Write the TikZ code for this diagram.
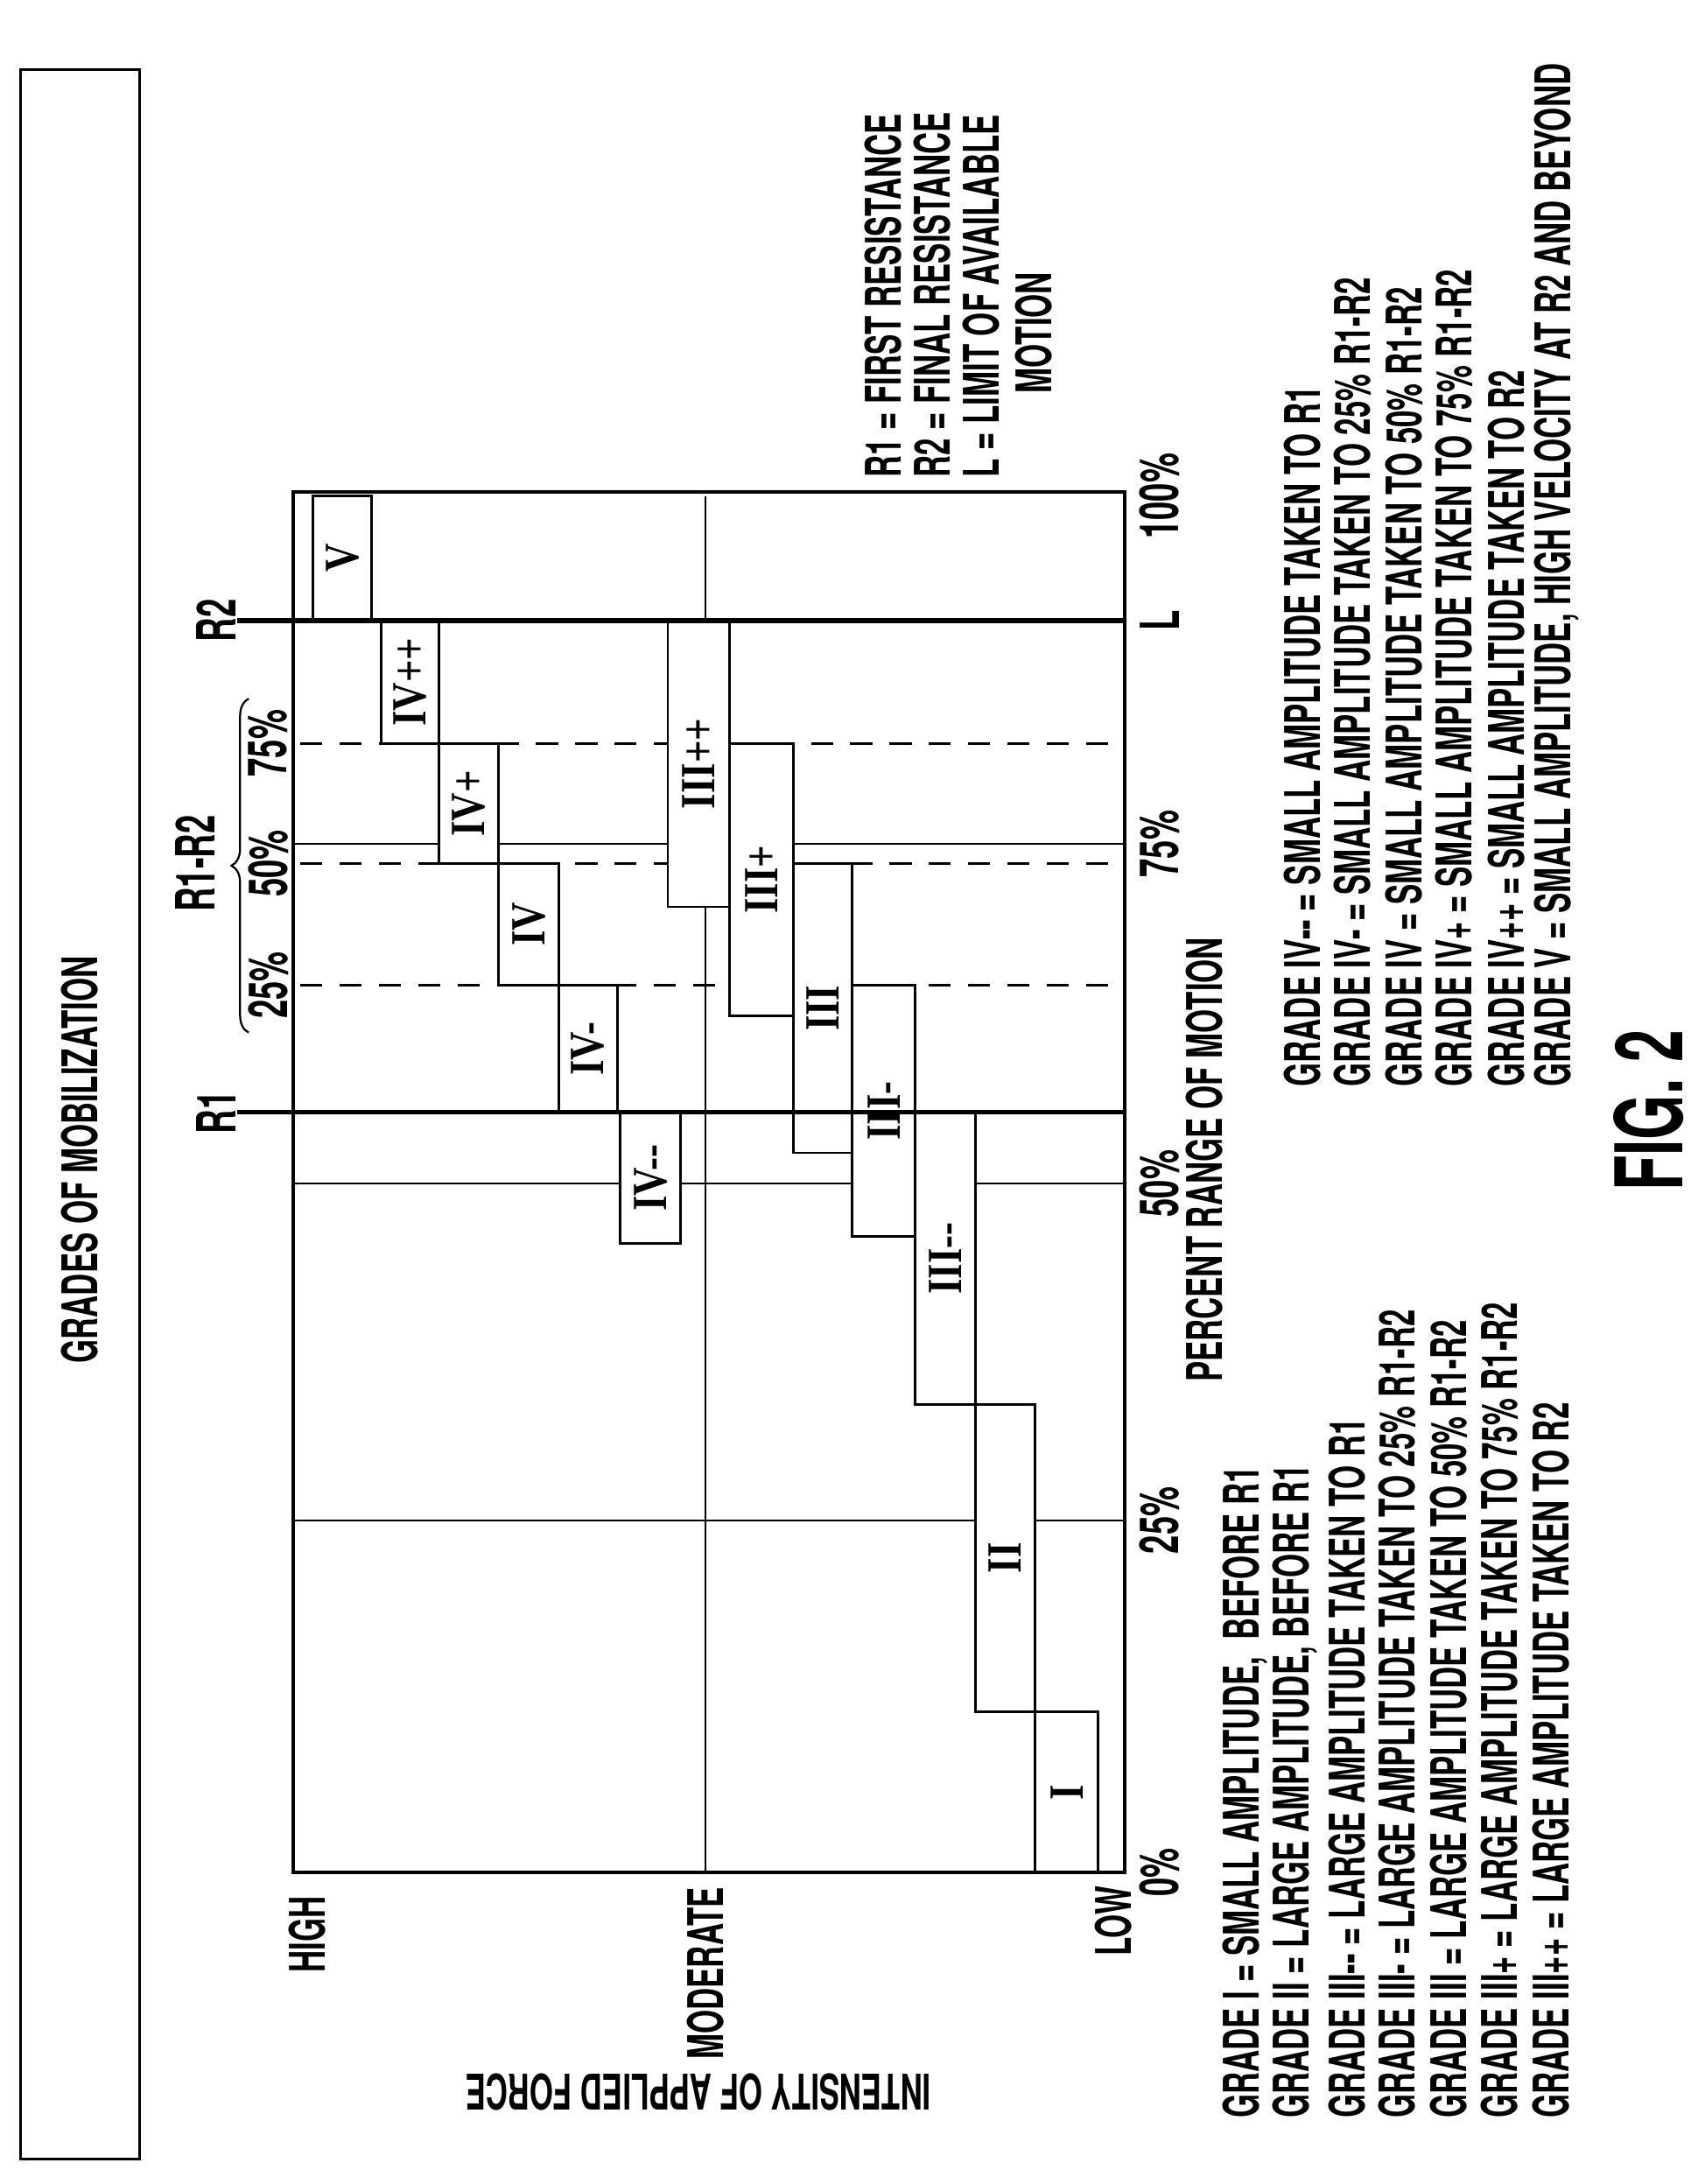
\documentclass[tikz,border=0pt]{standalone}
\usepackage{fontspec}
\setmainfont{TeX Gyre Heros}[FakeStretch=0.62]
\newfontfamily\romfont{Liberation Serif}[FakeStretch=0.8]
\usetikzlibrary{decorations.pathreplacing}
\begin{document}
\begin{tikzpicture}[x=0.02cm,y=-0.02cm,
  lbl/.style={rotate=90,font=\bfseries\fontsize{20}{20}\selectfont,inner sep=0pt},
  big/.style={lbl,font=\bfseries\fontsize{22}{22}\selectfont},
  leg/.style={lbl,anchor=west},
  gbx/.style={draw,fill=white,line width=1pt},
  glab/.style={rotate=90,inner sep=0pt,font=\romfont\bfseries\fontsize{20}{20}\selectfont},
  thin/.style={line width=0.6pt},
  dsh/.style={dashed,dash pattern=on 9pt off 7pt,line width=1pt},
  thick/.style={line width=2pt}]
\useasboundingbox (0,0) rectangle (1220,1563);
\newcommand\gb[6]{\draw[gbx] (#1,#2) rectangle (#3,#4); \node[glab] (#6) at ({(#1+#3)/2},{(#2+#4)/2}) {#5};}
% title box
\draw[line width=1.1pt] (15,50) rectangle (100,1545);
\node[lbl] (title) at (57,830) {GRADES OF MOBILIZATION};
% grid
\draw[thin] (210,1088) -- (805,1088);
\draw[thin] (210,847) -- (805,847);
\draw[thin] (210,604) -- (805,604);
\draw[thin] (505,355) -- (505,1340);
\draw[dsh] (215,532) -- (805,532);
\draw[dsh] (215,618) -- (805,618);
\draw[dsh] (215,705) -- (805,705);
% boxes
\gb{224}{355}{266}{444}{V}{gV}
\gb{273}{444}{314}{532}{IV++}{gIVpp}
\gb{314}{532}{357}{618}{IV+}{gIVp}
\gb{357}{618}{400}{705}{IV}{gIV}
\gb{400}{705}{442}{796}{IV-}{gIVm}
\gb{444}{796}{487}{890}{IV-{}-}{gIVmm}
\gb{478}{444}{522}{649}{III++}{gIIIpp}
\gb{522}{532}{568}{727}{III+}{gIIIp}
\gb{568}{618}{610}{825}{III}{gIII}
\gb{610}{705}{655}{885}{III-}{gIIIm}
\gb{655}{796}{698}{1005}{III-{}-}{gIIImm}
\gb{698}{1005}{741}{1225}{II}{gII}
\gb{741}{1225}{786}{1340}{I}{gI}
% thick lines
\draw[thick] (170,796) -- (805,796);
\draw[thick] (170,444) -- (805,444);
\draw[line width=1.3pt] (210,352) rectangle (805,1340);
% R labels
\node[big] (r1) at (155,796) {R1};
\node[big] (r2) at (155,444) {R2};
\node[big] (r12) at (140,618) {R1-R2};
\draw[line width=0.8pt,decorate,decoration={brace,amplitude=7pt}] (178,739) -- (178,500);
\node[big] (p25) at (192,705) {25\%};
\node[big] (p50) at (192,618) {50\%};
\node[big] (p75) at (192,532) {75\%};
% axis labels
\node[big] (t0) at (830,1340) {0\%};
\node[big] (t25) at (830,1088) {25\%};
\node[big] (t50) at (830,847) {50\%};
\node[big] (t75) at (830,604) {75\%};
\node[big] (tL) at (830,444) {L};
\node[big] (t100) at (830,355) {100\%};
\node[lbl] (xlab) at (862,830) {PERCENT RANGE OF MOTION};
\node[leg,font=\bfseries\fontsize{20}{20}\selectfont] (high) at (220,1412) {HIGH};
\node[leg,font=\bfseries\fontsize{20}{20}\selectfont] (mod) at (505,1474) {MODERATE};
\node[leg,font=\bfseries\fontsize{20}{20}\selectfont] (low) at (797,1400) {LOW};
\node[rotate=180,inner sep=0pt,font=\bfseries\fontsize{20}{20}\selectfont] (ylab) at (500,1497) {INTENSITY OF APPLIED FORCE};
% legends
\node[leg] (l1) at (891,1516) {GRADE I = SMALL AMPLITUDE, \,BEFORE R1};
\node[leg] (l2) at (927,1516) {GRADE II = LARGE AMPLITUDE, BEFORE R1};
\node[leg] (l3) at (964,1516) {GRADE III-{}- = LARGE AMPLITUDE TAKEN TO R1};
\node[leg] (l4) at (1000,1516) {GRADE III- = LARGE AMPLITUDE TAKEN TO 25\% R1-R2};
\node[leg] (l5) at (1037,1516) {GRADE III = LARGE AMPLITUDE TAKEN TO 50\% R1-R2};
\node[leg] (l6) at (1073,1516) {GRADE III+ = LARGE AMPLITUDE TAKEN TO 75\% R1-R2};
\node[leg] (l7) at (1110,1516) {GRADE III++ = LARGE AMPLITUDE TAKEN TO R2};
\node[leg] (m1) at (932,778) {GRADE IV-{}- = SMALL AMPLITUDE TAKEN TO R1};
\node[leg] (m2) at (968,778) {GRADE IV- = SMALL AMPLITUDE TAKEN TO 25\% R1-R2};
\node[leg] (m3) at (1005,778) {GRADE IV = SMALL AMPLITUDE TAKEN TO 50\% R1-R2};
\node[leg] (m4) at (1041,778) {GRADE IV+ = SMALL AMPLITUDE TAKEN TO 75\% R1-R2};
\node[leg] (m5) at (1078,778) {GRADE IV++ = SMALL AMPLITUDE TAKEN TO R2};
\node[leg] (m6) at (1114,778) {GRADE V = SMALL AMPLITUDE, HIGH VELOCITY AT R2 AND BEYOND};
\node[leg] (k1) at (632,342) {R1 = FIRST RESISTANCE};
\node[leg] (k2) at (667,342) {R2 = FINAL RESISTANCE};
\node[leg] (k3) at (702,342) {L = LIMIT OF AVAILABLE};
\node[leg] (k4) at (740,282) {MOTION};
\node[lbl,font=\bfseries\fontsize{38}{38}\selectfont] (fig) at (1180,795) {FIG. 2};
\end{tikzpicture}
\end{document}
